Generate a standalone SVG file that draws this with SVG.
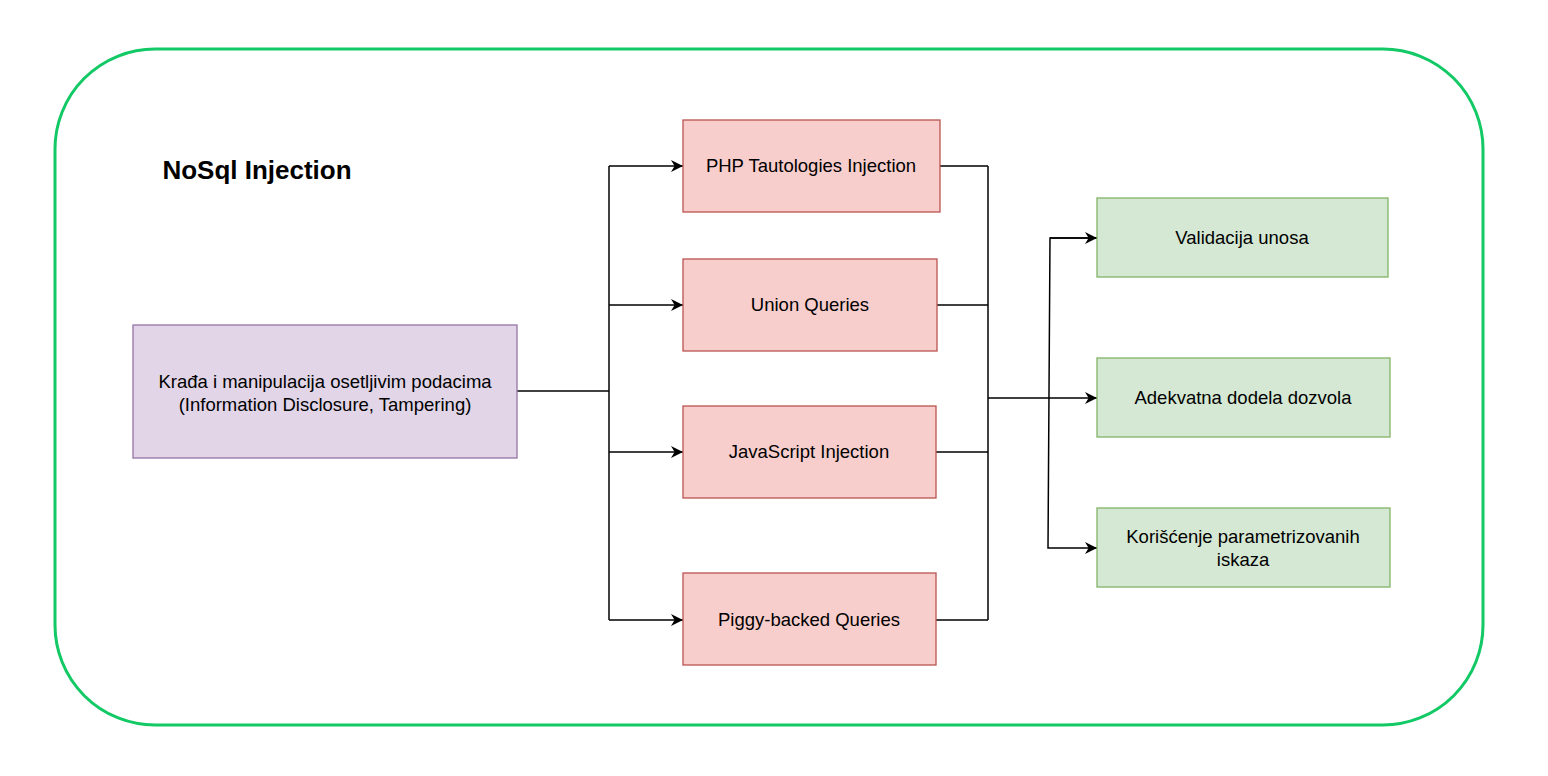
<svg xmlns="http://www.w3.org/2000/svg" width="1548" height="776" viewBox="0 0 1548 776">
<defs>
<style>
.t{font-family:"Liberation Sans",Arial,sans-serif;font-size:18.5px;fill:#000;text-anchor:middle}
.red{fill:#f8cecc;stroke:#b85450;stroke-width:1.3}
.grn{fill:#d5e8d4;stroke:#82b366;stroke-width:1.3}
.pur{fill:#e1d5e7;stroke:#9673a6;stroke-width:1.3}
.c{fill:none;stroke:#000;stroke-width:1.5}
</style>
<marker id="ah" viewBox="0 0 10 10" refX="10" refY="5" markerWidth="12" markerHeight="12" markerUnits="userSpaceOnUse" orient="auto">
<path d="M0,0 L10,5 L0,10 L3,5 Z" fill="#000"/>
</marker>
</defs>
<rect width="1548" height="776" fill="#fff"/>
<g id="container">
<rect x="55" y="49" width="1428" height="676" rx="100" ry="100" fill="#fff" stroke="#12c965" stroke-width="3"/>
<text x="257" y="179" style="font-family:'Liberation Sans',Arial,sans-serif;font-size:26px;font-weight:bold;text-anchor:middle">NoSql Injection</text>
</g>
<g id="connectors">
<path class="c" d="M517,391 H609"/>
<path class="c" d="M609,166 V620"/>
<path class="c" d="M609,166 H683" marker-end="url(#ah)"/>
<path class="c" d="M609,305 H683" marker-end="url(#ah)"/>
<path class="c" d="M609,452 H683" marker-end="url(#ah)"/>
<path class="c" d="M609,620 H683" marker-end="url(#ah)"/>
<path class="c" d="M940,166 H988"/>
<path class="c" d="M937,305 H988"/>
<path class="c" d="M936,452 H988"/>
<path class="c" d="M936,620 H988"/>
<path class="c" d="M988,166 V620"/>
<path class="c" d="M988,398 H1097" marker-end="url(#ah)"/>
<path class="c" d="M1097,238 H1050 L1048,548 H1097" marker-end="url(#ah)"/>
<path class="c" d="M1050,238 H1097" marker-end="url(#ah)"/>
</g>
<g id="n-source">
<rect class="pur" x="133" y="325" width="384" height="133"/>
<text class="t" x="325" y="388">Krađa i manipulacija osetljivim podacima</text>
<text class="t" x="325" y="411">(Information Disclosure, Tampering)</text>
</g>
<g id="n-php">
<rect class="red" x="683" y="120" width="257" height="92"/>
<text class="t" x="811" y="172">PHP Tautologies Injection</text>
</g>
<g id="n-union">
<rect class="red" x="683" y="259" width="254" height="92"/>
<text class="t" x="810" y="311">Union Queries</text>
</g>
<g id="n-js">
<rect class="red" x="683" y="406" width="253" height="92"/>
<text class="t" x="809" y="458">JavaScript Injection</text>
</g>
<g id="n-piggy">
<rect class="red" x="683" y="573" width="253" height="92"/>
<text class="t" x="809" y="626">Piggy-backed Queries</text>
</g>
<g id="n-valid">
<rect class="grn" x="1097" y="198" width="291" height="79"/>
<text class="t" x="1242" y="244">Validacija unosa</text>
</g>
<g id="n-perm">
<rect class="grn" x="1097" y="358" width="293" height="79"/>
<text class="t" x="1243" y="404">Adekvatna dodela dozvola</text>
</g>
<g id="n-param">
<rect class="grn" x="1097" y="508" width="293" height="79"/>
<text class="t" x="1243" y="543">Korišćenje parametrizovanih</text>
<text class="t" x="1243" y="566">iskaza</text>
</g>
</svg>
